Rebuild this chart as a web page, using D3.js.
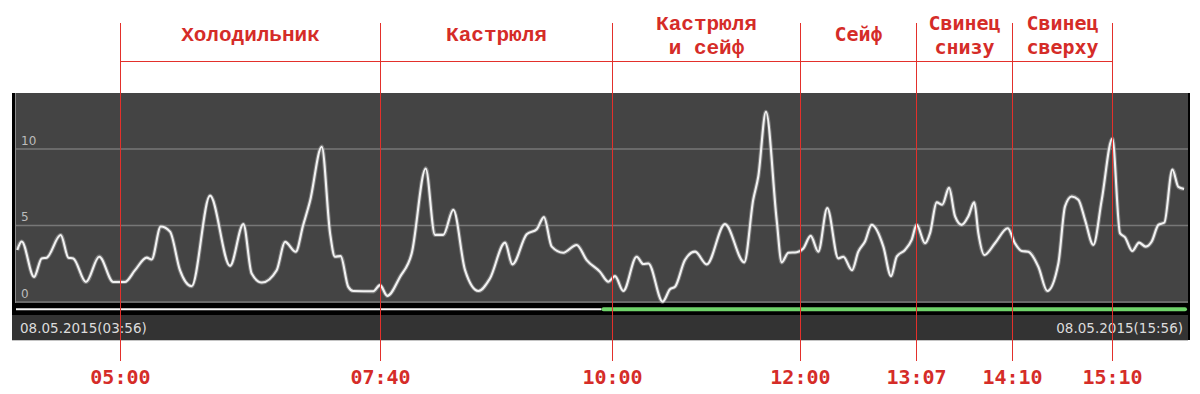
<!DOCTYPE html>
<html>
<head>
<meta charset="utf-8">
<script src="https://cdn.jsdelivr.net/npm/d3@7"></script>
<style>
  html, body { margin: 0; padding: 0; background: #ffffff; }
  svg { display: block; }
</style>
</head>
<body>
<svg id="chart" width="1200" height="394"></svg>
<script>
// ---------- DATA ----------
// minutes elapsed since 08.05.2015 03:56
const minutes = [0.8, 3.5, 11.1, 15.8, 18.9, 27.5, 32.2, 35.2, 43.0, 51.2, 59.8, 67.0, 73.2, 80.4, 83.4, 89.0, 94.7, 100.8, 108.0, 119.3,
  131.6, 139.8, 144.9, 151.1, 160.3, 165.4, 172.0, 176.5, 180.8, 188.0, 193.1, 196.1, 199.6, 204.3, 207.4, 219.7, 223.8, 228.3, 236.1, 243.3,
  251.9, 257.6, 262.7, 268.9, 276.1, 284.3, 291.4, 300.7, 305.2, 314.0, 320.2, 324.6, 329.4, 336.5, 344.7, 350.9, 359.1, 364.2, 368.3, 373.4,
  381.6, 385.7, 388.8, 397.6, 402.1, 405.2, 411.3, 417.5, 424.7, 435.9, 447.8, 453.3, 456.4, 461.1, 467.7, 470.8, 474.9, 480.0, 484.1, 488.6,
  493.3, 498.8, 505.6, 508.7, 514.0, 517.9, 522.0, 526.1, 533.3, 538.0, 541.5, 546.6, 550.7, 553.8, 558.9, 562.0, 566.1, 569.5, 573.7, 577.4,
  581.5, 585.5, 589.2, 591.7, 595.4, 601.9, 609.8, 614.2, 618.4, 622.4, 628.6, 634.1, 640.9, 645.0, 649.1, 653.2, 657.3, 662.4, 667.6, 674.1,
  678.8, 681.9, 686.4, 690.5, 694.6, 698.3, 702.4, 706.1, 711.0, 714.7, 718.2];
const values = [3.4, 3.95, 1.64, 2.85, 2.9, 4.38, 2.9, 2.85, 1.31, 2.96, 1.31, 1.31, 2.08, 2.9, 2.78, 4.93, 4.6, 2.08, 1.03, 6.95,
  2.36, 5.09, 1.86, 1.27, 2.08, 3.93, 3.28, 5.0, 6.6, 10.15, 4.5, 2.96, 3.0, 0.99, 0.72, 0.7, 1.1, 0.4, 1.64, 3.18,
  8.73, 4.39, 4.39, 6.03, 2.08, 0.72, 1.54, 3.88, 2.46, 4.43, 4.76, 5.55, 3.62, 3.22, 3.73, 2.74, 1.97, 1.32, 1.69, 0.72,
  2.96, 2.48, 2.52, 0.02, 0.83, 0.99, 2.74, 3.29, 2.46, 5.09, 2.59, 6.69, 8.2, 12.43, 5.37, 2.59, 3.22, 3.25, 3.5, 4.32,
  3.29, 6.14, 2.85, 2.96, 2.08, 3.29, 3.95, 5.04, 3.62, 1.69, 2.96, 3.4, 4.06, 5.04, 3.84, 4.5, 6.51, 6.36, 7.46, 5.59,
  5.04, 5.59, 6.51, 4.5, 3.07, 3.84, 4.82, 3.84, 3.33, 3.29, 2.3, 0.72, 2.52, 6.25, 6.9, 6.69, 5.37, 3.73, 6.69, 10.68,
  4.5, 4.23, 3.33, 3.88, 3.62, 3.95, 5.04, 5.2, 8.66, 7.52, 7.39];

const totalMinutes = 720;            // 03:56 .. 15:56
const startLabel = "08.05.2015(03:56)";
const endLabel = "08.05.2015(15:56)";
const yTicks = [0, 5, 10];

// status bar: white until 09:56, green afterwards
const statusFrom = [0, 360];
const statusTo = [360, 720];
const statusColors = ["#f4f4f4", "#6fd36a"];

// hand-drawn annotation markers (position in minutes since 03:56, label text)
const markerMinutes = [63.9, 223.8, 366.5, 482.0, 553.4, 612.4, 673.9];
const markerLabels = ["05:00", "07:40", "10:00", "12:00", "13:07", "14:10", "15:10"];
const zoneLabels = [["Холодильник"], ["Кастрюля"], ["Кастрюля", "и сейф"], ["Сейф"], ["Свинец", "снизу"], ["Свинец", "сверху"]];
const zoneFonts = ["mono1", "mono1", "mono1", "mono2", "mono2", "mono2"];

// ---------- LAYOUT ----------
const svg = d3.select("#chart");
const panel = { left: 12, right: 1190, top: 93, plotBottom: 303, stripBottom: 315, bottom: 340 };
const x = d3.scaleLinear().domain([0, totalMinutes]).range([16, 1187]);
const y = d3.scaleLinear().domain([0, 10]).range([302, 149]);

const red = "#e3302b";
const redText = "#d52c28";

// frame
svg.append("rect").attr("x", panel.left).attr("y", panel.top)
  .attr("width", panel.right - panel.left).attr("height", panel.bottom - panel.top)
  .attr("fill", "#000");
svg.append("rect").attr("x", 16).attr("y", panel.top)
  .attr("width", 1188 - 16).attr("height", panel.plotBottom - panel.top)
  .attr("fill", "#444444");
svg.append("line").attr("x1", 15.5).attr("x2", 15.5).attr("y1", panel.top).attr("y2", panel.plotBottom)
  .attr("stroke", "#8a8a8a").attr("stroke-width", 1);
svg.append("rect").attr("x", panel.left).attr("y", panel.stripBottom)
  .attr("width", 1188 - panel.left).attr("height", panel.bottom - panel.stripBottom)
  .attr("fill", "#333333");
svg.append("line").attr("x1", panel.left).attr("x2", 1188).attr("y1", 340.5).attr("y2", 340.5)
  .attr("stroke", "#c4c4c4").attr("stroke-width", 1);

// grid
svg.append("g").selectAll("line").data(yTicks).join("line")
  .attr("x1", 16).attr("x2", 1188)
  .attr("y1", d => y(d)).attr("y2", d => y(d))
  .attr("stroke", "#777").attr("stroke-width", 1.5);
svg.append("g").selectAll("text").data(yTicks).join("text")
  .attr("x", 21).attr("y", d => y(d) - 4.5)
  .attr("font-family", "DejaVu Sans, sans-serif").attr("font-size", 12)
  .attr("fill", "#bcbcbc").text(d => d);

// series line
const pts = minutes.map((m, i) => [m, values[i]]);
const line = d3.line().x(d => x(d[0])).y(d => y(d[1])).curve(d3.curveMonotoneX);
svg.append("path").datum(pts).attr("d", line)
  .attr("fill", "none").attr("stroke", "#9a9a9a").attr("stroke-width", 4.2).attr("stroke-opacity", 0.6)
  .attr("stroke-linejoin", "round");
svg.append("path").datum(pts).attr("d", line)
  .attr("fill", "none").attr("stroke", "#f2f2f2").attr("stroke-width", 2.1)
  .attr("stroke-linejoin", "round");

// status bar
svg.append("g").selectAll("line").data(statusFrom).join("line")
  .attr("x1", (d, i) => x(d) + (i === 1 ? 2 : 0)).attr("x2", (d, i) => x(statusTo[i]) - (i === 1 ? 2 : 0))
  .attr("y1", 309.3).attr("y2", 309.3)
  .attr("stroke", (d, i) => statusColors[i])
  .attr("stroke-width", (d, i) => i === 0 ? 2 : 4)
  .attr("stroke-linecap", (d, i) => i === 0 ? "butt" : "round");

// date labels
svg.append("text").attr("x", 20).attr("y", 333)
  .attr("font-family", "DejaVu Sans, sans-serif").attr("font-size", 13.5)
  .attr("fill", "#dcdcdc").text(startLabel);
svg.append("text").attr("x", 1183).attr("y", 333).attr("text-anchor", "end")
  .attr("font-family", "DejaVu Sans, sans-serif").attr("font-size", 13.5)
  .attr("fill", "#dcdcdc").text(endLabel);

// annotation lines
const mg = svg.append("g");
mg.selectAll("line.v").data(markerMinutes).join("line").attr("class", "v")
  .attr("x1", d => Math.round(x(d)) + 0.5).attr("x2", d => Math.round(x(d)) + 0.5)
  .attr("y1", 23).attr("y2", 361)
  .attr("stroke", red).attr("stroke-width", 1);
mg.append("line")
  .attr("x1", Math.round(x(markerMinutes[0])) + 0.5)
  .attr("x2", Math.round(x(markerMinutes[markerMinutes.length - 1])) + 0.5)
  .attr("y1", 61.5).attr("y2", 61.5)
  .attr("stroke", red).attr("stroke-width", 1);

// time labels under the chart
mg.selectAll("text.t").data(markerLabels).join("text").attr("class", "t")
  .attr("x", (d, i) => x(markerMinutes[i]) + 0.5).attr("y", 384)
  .attr("text-anchor", "middle")
  .attr("font-family", "DejaVu Sans Mono, monospace").attr("font-weight", "bold")
  .attr("font-size", 20).attr("fill", redText).text(d => d);

// zone labels
zoneLabels.forEach((lines, i) => {
  const cx = (x(markerMinutes[i]) + x(markerMinutes[i + 1])) / 2 + 0.5;
  const ys = lines.length === 1 ? [41] : [29.5, 53.5];
  const t = svg.append("text").attr("text-anchor", "middle")
    .attr("font-family", zoneFonts[i] === "mono1" ? "Liberation Mono, monospace" : "DejaVu Sans Mono, monospace")
    .attr("font-weight", "bold")
    .attr("font-size", zoneFonts[i] === "mono1" ? 21 : 20)
    .attr("fill", redText);
  lines.forEach((s, j) => {
    t.append("tspan").attr("x", cx).attr("y", ys[j]).text(s);
  });
});
</script>
</body>
</html>
